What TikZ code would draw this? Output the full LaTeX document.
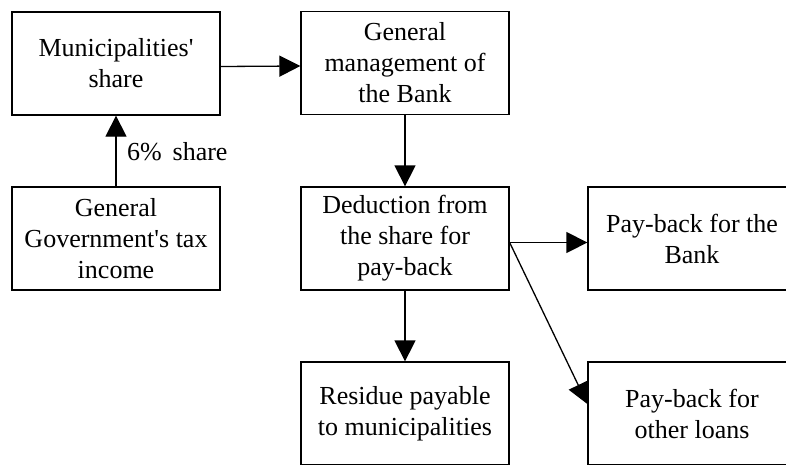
\documentclass[tikz,border=0pt]{standalone}
\usepackage{fontspec}
\setmainfont{Liberation Serif}[Ligatures=TeXOff]
\usetikzlibrary{arrows.meta}
\begin{document}
\begin{tikzpicture}[x=1pt,y=-1pt,
  box/.style={draw, line width=1.3pt, minimum width=208pt, minimum height=103pt,
    align=center, font=\fontsize{26}{31}\selectfont, inner sep=0pt},
  lbl/.style={font=\fontsize{26}{31}\selectfont, inner sep=0pt},
  arr/.style={line width=1.3pt, -{Triangle[length=21pt,width=21pt]}}]
\useasboundingbox (0,0) rectangle (786,464);
\clip (0,0) rectangle (786,464);
\node[box] (ms) at (116,63.5) {Municipalities'\\share};
\node[box] (gm) at (405,63) {General\\management of\\the Bank};
\node[box] (gt) at (116,238.5) {General\\Government's tax\\income};
\node[box] (dd) at (405,238.5) {Deduction from\\the share for\\pay-back};
\node[box] (pb) at (692,238.5) {Pay-back for the\\Bank};
\node[box] (rp) at (405,413.5) {Residue payable\\to municipalities};
\node[box] (po) at (692,413.5) {Pay-back for\\other loans};
\draw[arr] ([yshift=-3pt]ms.east) -- ([yshift=-3pt]gm.west);
\draw[arr] (gt.north) -- (ms.south);
\node[lbl, anchor=base west] (share) at (127,160) {6\%\,\ share};
\draw[arr] (gm.south) -- (dd.north);
\draw[arr] ([yshift=-4pt]dd.east) -- ([yshift=-4pt]pb.west);
\draw[arr] ([yshift=-4pt]dd.east) -- ([yshift=9.5pt]po.west);
\draw[arr] (dd.south) -- (rp.north);
\end{tikzpicture}
\end{document}
